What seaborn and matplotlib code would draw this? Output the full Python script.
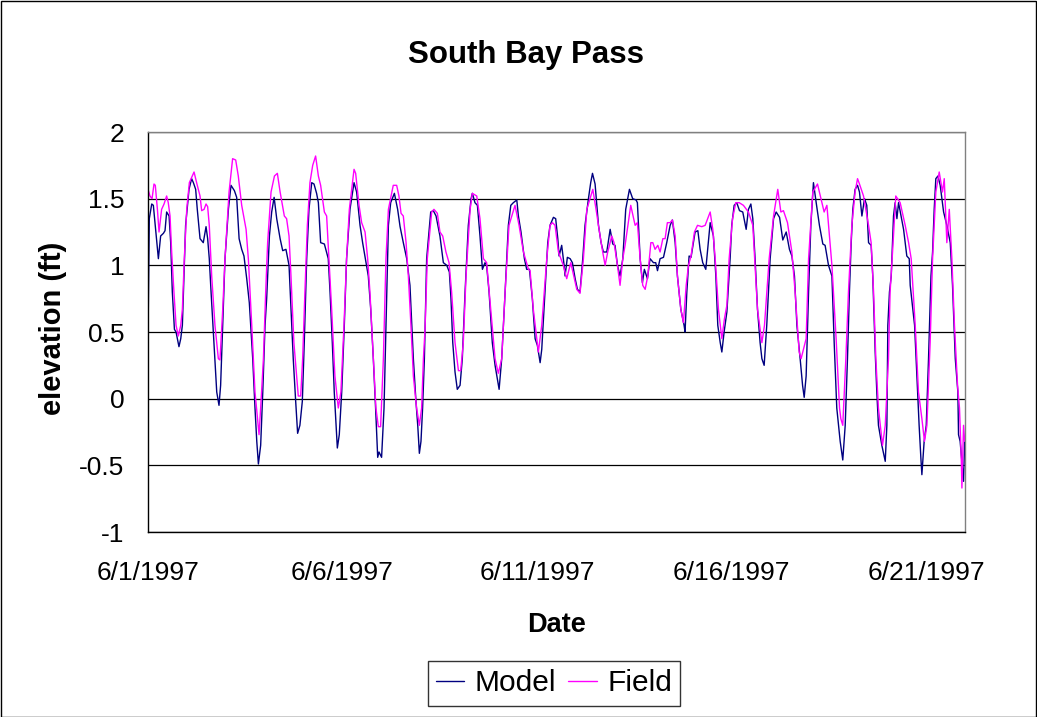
import pandas as pd
import matplotlib
matplotlib.use("Agg")
import matplotlib.pyplot as plt
import matplotlib.dates as mdates
from matplotlib.patches import Rectangle
import seaborn as sns

# hours since 6/1/1997 00:00 and water surface elevation (ft)
model_hours = [0, 0.8, 2.3, 3.3, 4.7, 6.4, 7.8, 9.5, 10.5, 11.5, 13.0, 14.0, 15.0, 16.3, 17.3, 19.1, 20.2, 21.2,
               23.2, 25.3, 26.9, 28.0, 29.4, 30.4, 32.1, 34.1, 35.8, 36.8, 37.8, 38.9, 40.7, 42.4, 43.8, 44.8,
               46.1, 47.5, 49.6, 51.2, 53.3, 54.7, 56.2, 57.8, 59.2, 60.9, 62.5, 64.6, 66.0, 67.1, 68.1, 69.5,
               70.8, 72.2, 73.2, 74.9, 76.3, 77.8, 79.4, 81.5, 83.1, 85.1, 87.0, 88.2, 89.6, 91.1, 92.3, 93.7,
               95.2, 96.4, 97.9, 99.3, 101.0, 102.4, 104.0, 105.1, 106.5, 108.8, 111.2, 112.3, 113.7, 114.9,
               116.0, 116.8, 118.0, 119.5, 121.1, 122.5, 124.6, 127.1, 128.7, 130.8, 132.4, 134.5, 135.9, 137.4,
               139.0, 140.4, 141.7, 142.5, 144.1, 145.6, 146.8, 148.3, 149.7, 152.0, 154.0, 155.5, 157.5, 159.6,
               161.6, 163.7, 165.3, 166.4, 167.4, 168.4, 169.4, 170.5, 171.9, 174.4, 176.0, 177.7, 180.1, 182.2,
               184.3, 185.9, 186.9, 188.0, 189.4, 190.8, 192.5, 193.9, 195.6, 197.6, 199.3, 200.1, 201.7, 203.2,
               204.8, 206.3, 207.9, 208.9, 210.4, 212.4, 214.1, 216.6, 218.2, 220.3, 222.3, 223.8, 225.4, 227.5,
               228.5, 230.1, 232.2, 233.6, 235.3, 237.1, 238.8, 240.2, 241.9, 242.9, 244.3, 246.6, 248.0, 250.1,
               251.5, 252.8, 253.6, 255.2, 256.7, 257.3, 258.7, 260.4, 261.8, 263.5, 264.9, 266.5, 268.2, 269.6,
               271.7, 273.1, 274.2, 275.8, 277.9, 279.5, 280.9, 283.0, 285.1, 286.7, 288.1, 289.6, 291.2, 292.9,
               294.7, 297.0, 299.0, 301.1, 301.9, 303.6, 305.0, 306.2, 308.1, 309.7, 311.8, 313.2, 314.3, 315.9,
               318.0, 320.0, 322.1, 323.5, 325.2, 326.6, 328.7, 330.7, 331.3, 332.4, 333.8, 335.0, 337.5, 339.2,
               340.6, 342.2, 344.1, 345.1, 346.8, 348.8, 350.3, 351.5, 353.0, 354.0, 355.4, 357.1, 359.1, 360.1,
               361.6, 363.2, 364.9, 366.9, 369.0, 370.4, 371.9, 373.1, 374.5, 376.0, 377.6, 378.7, 380.1, 381.7,
               383.8, 385.9, 387.5, 389.6, 391.6, 393.7, 395.7, 397.2, 398.8, 400.3, 402.3, 403.8, 404.8, 406.0,
               407.5, 408.9, 410.5, 412.2, 414.2, 416.3, 417.7, 419.8, 421.9, 423.3, 424.9, 427.0, 428.6, 430.1,
               431.5, 432.7, 433.8, 434.8, 436.2, 437.7, 438.9, 440.4, 442.0, 443.4, 444.5, 446.1, 447.1, 448.6,
               449.6, 450.6, 452.7, 454.8, 455.8, 456.4, 457.4, 458.5, 459.9, 460.9, 462.0, 463.0, 466.1, 468.1,
               469.6, 470.2, 472.9, 474.3, 475.7, 476.8, 477.4, 478.8, 480.1, 481.5, 483.0, 484.0, 485.0, 486.0,
               487.3, 488.7, 490.8, 492.8, 494.9, 496.3, 498.0, 499.6, 500.0, 501.0, 503.1, 503.8]
model_ft = [0.45, 1.35, 1.46, 1.45, 1.27, 1.05, 1.22, 1.24, 1.26, 1.40, 1.37, 1.17, 0.80, 0.52, 0.50, 0.39, 0.45, 0.55,
            1.30, 1.57, 1.65, 1.62, 1.57, 1.42, 1.20, 1.17, 1.29, 1.20, 1.05, 0.80, 0.42, 0.05, -0.05, 0.10,
            0.55, 1.05, 1.42, 1.60, 1.56, 1.51, 1.20, 1.12, 1.07, 0.90, 0.72, 0.30, -0.07, -0.32, -0.49, -0.35,
            0.05, 0.55, 0.75, 1.22, 1.40, 1.51, 1.35, 1.20, 1.11, 1.12, 1.00, 0.67, 0.30, -0.02, -0.26, -0.20,
            -0.02, 0.42, 1.05, 1.42, 1.62, 1.61, 1.54, 1.47, 1.17, 1.16, 1.05, 0.80, 0.42, 0.05,
            -0.20, -0.37, -0.27, 0.05, 0.55, 1.05, 1.42, 1.62, 1.55, 1.30, 1.17, 1.02, 0.92, 0.67,
            0.30, -0.07, -0.44, -0.40, -0.44, -0.07, 0.55, 1.30, 1.47, 1.54, 1.42, 1.29, 1.17, 1.05,
            0.85, 0.30, -0.02, -0.20, -0.41, -0.32, -0.07, 0.30, 1.05, 1.40, 1.41, 1.37, 1.22, 1.02,
            1.00, 0.95, 0.75, 0.42, 0.20, 0.07, 0.10, 0.30, 0.80, 1.30, 1.50, 1.54, 1.47, 1.45,
            1.22, 0.97, 1.02, 1.00, 0.80, 0.42, 0.25, 0.07, 0.30, 0.80, 1.30, 1.45, 1.47, 1.49,
            1.37, 1.25, 1.05, 0.97, 0.97, 0.75, 0.45, 0.40, 0.27, 0.37, 0.67, 1.17, 1.30, 1.36,
            1.35, 1.20, 1.07, 1.15, 1.00, 0.92, 1.06, 1.05, 1.02, 0.90, 0.82, 0.80, 1.05, 1.30,
            1.50, 1.62, 1.69, 1.61, 1.30, 1.17, 1.10, 1.10, 1.27, 1.16, 1.15, 1.00, 0.92, 1.05,
            1.42, 1.57, 1.50, 1.49, 1.47, 1.05, 0.87, 0.97, 0.90, 1.05, 1.02, 1.02, 0.96, 1.05,
            1.06, 1.17, 1.30, 1.34, 1.17, 0.92, 0.67, 0.55, 0.50, 0.80, 1.07, 1.06, 1.25, 1.26,
            1.12, 1.02, 0.97, 1.10, 1.32, 1.22, 0.92, 0.55, 0.42, 0.35, 0.50, 0.65, 1.05, 1.30,
            1.45, 1.47, 1.41, 1.40, 1.27, 1.42, 1.46, 1.35, 1.05, 0.67, 0.42, 0.30, 0.25, 0.55,
            1.05, 1.35, 1.40, 1.36, 1.19, 1.25, 1.12, 1.07, 0.92, 0.55, 0.30, 0.10, 0.01, 0.17,
            0.80, 1.30, 1.62, 1.47, 1.30, 1.16, 1.15, 1.00, 0.92, 0.42, -0.07, -0.32, -0.46, -0.20,
            0.30, 0.80, 1.17, 1.42, 1.57, 1.60, 1.55, 1.37, 1.50, 1.45, 1.17, 1.15, 0.92, 0.35,
            0.05, -0.20, -0.35, -0.47, -0.20, 0.55, 0.80, 0.92, 1.37, 1.47, 1.35, 1.47, 1.27, 1.07,
            1.05, 0.85, 0.55, 0.17, -0.20, -0.45, -0.57, -0.32, -0.20, 0.30, 0.92, 1.10, 1.42, 1.65,
            1.67, 1.60, 1.40, 1.30, 1.17, 0.85, 0.30, 0.05, -0.27, -0.32, -0.62, -0.32]

field_hours = [0, 1.2, 2.5, 3.7, 4.5, 5.8, 6.8, 8.4, 9.9, 11.5, 12.5, 13.6, 14.6, 16.0, 17.3, 18.7, 20.2, 21.2,
               22.4, 23.9, 25.5, 28.4, 30.4, 32.1, 33.1, 34.6, 35.8, 36.8, 37.8, 39.3, 41.3, 43.4, 44.4, 46.1,
               47.5, 50.0, 52.2, 54.1, 55.7, 57.8, 60.5, 61.9, 64.0, 66.0, 68.5, 69.5, 71.2, 72.6, 73.8, 75.9,
               78.0, 79.8, 81.5, 84.1, 85.5, 87.0, 88.2, 90.0, 92.7, 94.2, 95.4, 96.8, 98.3, 99.9, 101.6, 103.4,
               105.1, 106.5, 108.8, 110.2, 111.6, 113.3, 115.3, 117.4, 119.0, 120.9, 122.5, 124.2, 127.1, 128.1,
               130.2, 131.8, 133.9, 135.5, 136.9, 139.0, 140.6, 142.1, 143.5, 145.2, 146.8, 148.3, 151.3, 153.4,
               154.8, 156.1, 157.5, 159.2, 160.6, 162.2, 163.7, 165.7, 167.4, 168.8, 169.9, 170.9, 172.3, 175.0,
               176.4, 178.5, 180.1, 181.8, 183.8, 185.7, 187.3, 189.4, 191.5, 192.9, 194.5, 196.2, 198.7, 200.1,
               202.8, 204.8, 206.9, 208.9, 211.4, 214.1, 216.1, 218.2, 220.3, 222.7, 226.4, 228.9, 231.6, 234.7,
               235.7, 237.7, 240.8, 242.9, 246.0, 248.0, 249.5, 251.1, 253.2, 256.2, 258.3, 260.8, 264.5, 266.5,
               268.6, 270.7, 274.4, 276.4, 278.5, 280.5, 282.0, 283.6, 286.1, 287.5, 289.6, 291.2, 292.9, 294.3,
               297.8, 300.5, 301.9, 303.6, 305.2, 306.7, 308.3, 310.2, 311.4, 312.8, 314.5, 315.9, 317.6, 319.0,
               320.4, 322.1, 323.5, 325.2, 326.6, 328.7, 330.3, 332.0, 333.4, 335.0, 337.1, 339.0, 341.6, 343.7,
               346.8, 348.4, 349.9, 351.9, 354.0, 355.6, 357.1, 358.5, 360.6, 362.6, 364.7, 367.3, 370.4, 373.1,
               374.5, 376.0, 378.7, 380.3, 383.2, 385.9, 388.5, 390.4, 392.0, 394.5, 397.2, 399.2, 401.7, 402.9,
               406.0, 407.5, 410.1, 413.0, 415.7, 417.1, 418.8, 421.9, 424.5, 426.6, 427.4, 428.6, 430.5, 432.1,
               434.2, 436.2, 437.7, 438.9, 441.4, 444.5, 446.1, 447.6, 449.0, 450.6, 453.1, 454.8, 456.8, 457.8,
               459.3, 461.3, 464.0, 467.1, 469.2, 470.8, 473.3, 475.3, 477.4, 479.0, 480.5, 482.5, 484.0, 486.0,
               488.1, 490.1, 491.2, 492.8, 494.3, 495.9, 497.5, 499.4, 500.6, 501.7, 502.1, 503.1, 503.8]
field_ft = [1.57, 1.52, 1.50, 1.61, 1.60, 1.42, 1.25, 1.42, 1.46, 1.52, 1.47, 1.37, 1.10, 0.80, 0.55, 0.47, 0.55, 0.67,
            1.05, 1.42, 1.62, 1.70, 1.60, 1.52, 1.41, 1.42, 1.46, 1.44, 1.30, 0.92, 0.55, 0.30, 0.29, 0.67,
            1.05, 1.55, 1.80, 1.79, 1.67, 1.45, 1.27, 1.05, 0.55, 0.05, -0.27, -0.07, 0.30, 0.80, 1.17, 1.55,
            1.67, 1.69, 1.55, 1.37, 1.35, 1.22, 0.92, 0.42, 0.02, 0.02, 0.30, 0.80, 1.30, 1.62, 1.75, 1.82,
            1.67, 1.60, 1.40, 1.37, 1.05, 0.67, 0.17, -0.07, 0.05, 0.55, 1.05, 1.42, 1.72, 1.69,
            1.45, 1.32, 1.25, 1.05, 0.80, 0.30, -0.07, -0.21, -0.21, 0.30, 1.05, 1.42, 1.60, 1.60,
            1.52, 1.39, 1.37, 1.17, 0.92, 0.55, 0.17, -0.07, -0.20, -0.07, 0.30, 0.52, 1.05, 1.40,
            1.42, 1.39, 1.25, 1.22, 1.10, 1.02, 0.80, 0.42, 0.21, 0.21, 0.42, 0.92, 1.42, 1.54,
            1.52, 1.35, 1.05, 1.02, 0.67, 0.30, 0.19, 0.30, 0.80, 1.30, 1.45, 1.30, 1.10, 0.97,
            0.96, 0.67, 0.35, 0.55, 1.05, 1.30, 1.32, 1.30, 1.10, 1.00, 0.90, 1.02, 0.82, 0.79,
            1.05, 1.42, 1.57, 1.42, 1.25, 1.10, 1.00, 1.10, 1.22, 1.17, 1.00, 0.85, 1.05, 1.15,
            1.45, 1.30, 1.32, 1.05, 0.85, 0.82, 0.92, 1.17, 1.17, 1.12, 1.15, 1.10, 1.20, 1.20,
            1.32, 1.32, 1.34, 1.22, 0.92, 0.67, 0.57, 0.85, 1.00, 1.07, 1.25, 1.30, 1.29, 1.30,
            1.40, 1.27, 1.05, 0.67, 0.45, 0.60, 0.70, 1.05, 1.35, 1.47, 1.47, 1.45, 1.40, 1.30,
            1.00, 0.67, 0.42, 0.55, 1.05, 1.37, 1.57, 1.40, 1.41, 1.32, 1.10, 0.80, 0.35, 0.30,
            0.45, 1.05, 1.55, 1.61, 1.47, 1.40, 1.45, 1.00, 0.45, -0.07, -0.15, -0.20, 0.30, 0.80,
            1.30, 1.55, 1.65, 1.61, 1.52, 1.30, 1.17, 0.80, 0.30, -0.07, -0.35, -0.20, 0.30, 0.80,
            1.10, 1.52, 1.47, 1.30, 1.17, 1.05, 0.55, 0.05, -0.15, -0.32, -0.20, 0.42, 1.05, 1.55,
            1.70, 1.55, 1.65, 1.17, 1.42, 1.05, 0.55, 0.10, -0.07, -0.45, -0.67, -0.20, -0.32]

start = pd.Timestamp("1997-06-01")
model = pd.DataFrame({"Date": start + pd.to_timedelta(model_hours, unit="h"),
                      "elevation": model_ft, "series": "Model"})
field = pd.DataFrame({"Date": start + pd.to_timedelta(field_hours, unit="h"),
                      "elevation": field_ft, "series": "Field"})
df = pd.concat([model, field], ignore_index=True)

sns.set_style("white")
plt.rcParams["font.family"] = ["Liberation Sans", "DejaVu Sans"]
plt.rcParams["text.color"] = "black"
plt.rcParams["axes.labelcolor"] = "black"
plt.rcParams["xtick.color"] = "black"
plt.rcParams["ytick.color"] = "black"

W, H = 1037, 717
fig = plt.figure(figsize=(W / 100, H / 100), dpi=100)
ax = fig.add_axes([148 / W, 1 - 532 / H, (965 - 148) / W, 400 / H])

sns.lineplot(data=df, x="Date", y="elevation", hue="series", estimator=None, sort=False,
             palette={"Model": "#000080", "Field": "#FF00FF"}, linewidth=1.0, ax=ax)

# axes range and ticks
ax.set_xlim(start, start + pd.Timedelta(days=21))
ax.set_ylim(-1, 2)
ax.set_yticks([-1, -0.5, 0, 0.5, 1, 1.5, 2])
ax.set_yticklabels(["-1", "-0.5", "0", "0.5", "1", "1.5", "2"])
ax.xaxis.set_major_locator(mdates.DayLocator(bymonthday=[1, 6, 11, 16, 21]))
ax.xaxis.set_major_formatter(mdates.DateFormatter("%-m/%-d/%Y"))
ax.tick_params(axis="both", direction="out", length=7, width=0.9, colors="black", labelsize=19)
ax.tick_params(axis="x", pad=14)
ax.tick_params(axis="y", pad=10)

ax.yaxis.grid(True, color="black", linewidth=0.9)
ax.xaxis.grid(False)
for side in ["top", "right"]:
    ax.spines[side].set_color("#808080")
for side in ["left", "bottom"]:
    ax.spines[side].set_color("black")
for s in ax.spines.values():
    s.set_linewidth(1.0)

ax.set_xlabel("Date", fontsize=19.5, fontweight="bold")
ax.set_ylabel("elevation (ft)", fontsize=21, fontweight="bold")
ax.xaxis.set_label_coords(0.5, (532 - 625) / 400)
ax.xaxis.label.set_va("center")
ax.yaxis.set_label_coords((53 - 148) / 817, 0.51)
ax.yaxis.label.set_va("center")

fig.text(526 / W, 1 - 55 / H, "South Bay Pass", fontsize=22.5, fontweight="bold",
         ha="center", va="center")

handles, labels = ax.get_legend_handles_labels()
ax.get_legend().remove()
leg = fig.legend(handles, labels, loc="upper center", bbox_to_anchor=(554 / W, 1 - 661 / H),
                 ncol=2, fontsize=21.5, frameon=True, fancybox=False, handlelength=0.95,
                 handletextpad=0.35, columnspacing=0.4, borderpad=0.28, borderaxespad=0)
leg.get_frame().set_edgecolor("black")
leg.get_frame().set_linewidth(1.0)

# chart border
fig.patches.append(Rectangle((0.5 / W, 0.5 / H), (W - 1.5) / W, (H - 1.5) / H,
                             transform=fig.transFigure, fill=False, edgecolor="black", linewidth=1.0))

plt.savefig("out.png", dpi=100)
